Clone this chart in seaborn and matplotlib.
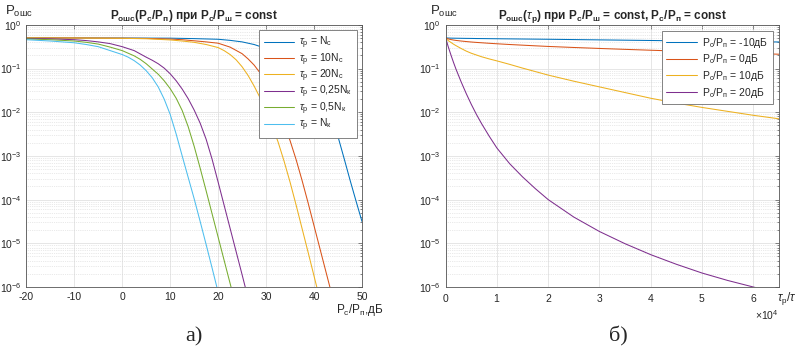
import numpy as np
import pandas as pd
import matplotlib
matplotlib.use('Agg')
import matplotlib.pyplot as plt
import matplotlib.ticker as mticker
import seaborn as sns

# ------------------------------------------------------------
# Panel а): log10(P_ошс) vs P_c/P_п, dB (read off the picture)
# ------------------------------------------------------------
x_nc = [-20, -10, 0, 10, 15, 20, 22.5, 25, 27.5, 30, 32.5, 35, 37.5, 40, 41.25,
        42.5, 43.75, 45, 46.25, 47.5, 48.75, 50]
lg_nc = [-0.300, -0.300, -0.302, -0.305, -0.315, -0.330, -0.355, -0.390, -0.450, -0.540,
         -0.660, -0.800, -0.990, -1.280, -1.480, -1.750, -2.120, -2.560, -3.050, -3.550,
         -4.030, -4.500]

x_10nc = [-20, -10, 0, 5, 10, 12.5, 15, 17.5, 20, 22.5, 25, 26.25, 27.5, 28.75, 30,
          31.25, 32.5, 33.75, 35, 36.25, 37.5, 38.75, 40, 42.5, 45]
lg_10nc = [-0.300, -0.300, -0.305, -0.310, -0.325, -0.340, -0.365, -0.390, -0.420, -0.510,
           -0.660, -0.780, -0.920, -1.100, -1.320, -1.600, -1.910, -2.260, -2.650, -3.080,
           -3.560, -4.070, -4.600, -5.660, -6.720]

x_20nc = [-20, -10, 0, 5, 10, 12.5, 15, 17.5, 20, 21.25, 22.5, 23.75, 25, 26.25, 27.5,
          28.75, 30, 31.25, 32.5, 33.75, 35, 36.25, 37.5, 38.75, 40, 42.5]
lg_20nc = [-0.300, -0.301, -0.308, -0.318, -0.345, -0.370, -0.400, -0.450, -0.520, -0.590,
           -0.680, -0.800, -0.960, -1.160, -1.400, -1.670, -1.970, -2.310, -2.680, -3.120,
           -3.600, -4.120, -4.660, -5.200, -5.750, -6.850]

x_025nk = [-20, -15, -10, -7.5, -5, -2.5, 0, 2.5, 5, 6.25, 7.5, 8.75, 10, 11.25, 12.5,
           13.75, 15, 16.25, 17.5, 18.75, 20, 21.25, 22.5, 23.75, 25, 27.5]
lg_025nk = [-0.310, -0.320, -0.340, -0.360, -0.390, -0.430, -0.500, -0.590, -0.740, -0.810,
            -0.890, -0.990, -1.120, -1.280, -1.470, -1.690, -1.950, -2.250, -2.620, -3.080,
            -3.600, -4.130, -4.660, -5.190, -5.720, -6.800]

x_05nk = [-20, -15, -10, -7.5, -5, -2.5, 0, 2.5, 3.75, 5, 6.25, 7.5, 8.75, 10, 11.25,
          12.5, 13.75, 15, 16.25, 17.5, 18.75, 20, 21.25, 22.5, 25]
lg_05nk = [-0.320, -0.340, -0.370, -0.400, -0.440, -0.510, -0.590, -0.710, -0.790, -0.890,
           -1.010, -1.130, -1.280, -1.460, -1.680, -1.960, -2.330, -2.780, -3.280, -3.800,
           -4.330, -4.860, -5.390, -5.920, -6.980]

x_nk = [-20, -15, -10, -7.5, -5, -2.5, 0, 1.25, 2.5, 3.75, 5, 6.25, 7.5, 8.75, 10,
        11.25, 12.5, 13.75, 15, 16.25, 17.5, 18.75, 20, 22.5]
lg_nk = [-0.340, -0.370, -0.410, -0.450, -0.500, -0.590, -0.680, -0.740, -0.820, -0.920,
         -1.050, -1.210, -1.420, -1.700, -2.050, -2.500, -3.000, -3.490, -3.980, -4.500,
         -5.030, -5.570, -6.120, -7.200]

labels_a = [r'$\tau_\mathrm{p}$ = N$_\mathrm{c}$',
            r'$\tau_\mathrm{p}$ = 10N$_\mathrm{c}$',
            r'$\tau_\mathrm{p}$ = 20N$_\mathrm{c}$',
            r'$\tau_\mathrm{p}$ = 0,25N$_\mathrm{к}$',
            r'$\tau_\mathrm{p}$ = 0,5N$_\mathrm{к}$',
            r'$\tau_\mathrm{p}$ = N$_\mathrm{к}$']
series_a = [(x_nc, lg_nc), (x_10nc, lg_10nc), (x_20nc, lg_20nc),
            (x_025nk, lg_025nk), (x_05nk, lg_05nk), (x_nk, lg_nk)]

# ------------------------------------------------------------
# Panel б): log10(P_ошс) vs tau_p/tau
# ------------------------------------------------------------
tau_ratio = [0, 500, 1000, 1500, 2000, 3000, 4000, 5000, 6000, 7000, 8500, 10000,
             12500, 15000, 17500, 20000, 25000, 30000, 35000, 40000, 45000, 50000,
             55000, 60000, 65000]

lg_m10db = [-0.300, -0.302, -0.304, -0.305, -0.306, -0.308, -0.310, -0.311, -0.313, -0.314,
            -0.316, -0.318, -0.321, -0.324, -0.327, -0.330, -0.337, -0.344, -0.351, -0.358,
            -0.365, -0.372, -0.379, -0.386, -0.392]
lg_0db = [-0.300, -0.322, -0.336, -0.347, -0.356, -0.370, -0.382, -0.393, -0.402, -0.410,
          -0.422, -0.433, -0.450, -0.465, -0.480, -0.494, -0.518, -0.540, -0.561, -0.581,
          -0.600, -0.619, -0.637, -0.655, -0.672]
lg_10db = [-0.300, -0.360, -0.400, -0.440, -0.475, -0.540, -0.600, -0.650, -0.690, -0.730,
           -0.780, -0.825, -0.905, -0.990, -1.070, -1.150, -1.290, -1.420, -1.550, -1.680,
           -1.790, -1.890, -1.980, -2.070, -2.150]
lg_20db = [-0.300, -0.500, -0.680, -0.850, -1.010, -1.300, -1.570, -1.820, -2.050, -2.260,
           -2.550, -2.820, -3.180, -3.480, -3.750, -4.000, -4.400, -4.730, -5.010, -5.260,
           -5.480, -5.680, -5.850, -6.000, -6.140]

labels_b = [r'P$_\mathrm{c}$/P$_\mathrm{п}$ = -10дБ',
            r'P$_\mathrm{c}$/P$_\mathrm{п}$ = 0дБ',
            r'P$_\mathrm{c}$/P$_\mathrm{п}$ = 10дБ',
            r'P$_\mathrm{c}$/P$_\mathrm{п}$ = 20дБ']
series_b = [(tau_ratio, lg_m10db), (tau_ratio, lg_0db), (tau_ratio, lg_10db),
            (tau_ratio, lg_20db)]

# MATLAB default line colours
colors_a = ['#0072BD', '#D95319', '#EDB120', '#7E2F8E', '#77AC30', '#4DBEEE']
colors_b = colors_a[:4]


def long_table(series, labels):
    rows = []
    for (xs, lg), lab in zip(series, labels):
        for x, v in zip(xs, lg):
            rows.append((x, 10.0 ** v, lab))
    return pd.DataFrame(rows, columns=['x', 'p', 'curve'])


df_a = long_table(series_a, labels_a)
df_b = long_table(series_b, labels_b)

# ------------------------------------------------------------
# Style
# ------------------------------------------------------------
sns.set_style('white')
plt.rcParams['font.family'] = ['Liberation Sans', 'DejaVu Sans']
plt.rcParams['mathtext.fontset'] = 'custom'
plt.rcParams['mathtext.rm'] = 'Liberation Sans'
plt.rcParams['mathtext.it'] = 'Liberation Sans:italic'
plt.rcParams['mathtext.bf'] = 'Liberation Sans:bold'
plt.rcParams['axes.unicode_minus'] = False

TXT = '#262626'
SPINE = '#555555'
LW = 0.75

fig = plt.figure(figsize=(8.03, 3.5), dpi=100)
ax1 = fig.add_axes([0.0328, 0.180, 0.418, 0.749])
ax2 = fig.add_axes([0.555, 0.180, 0.415, 0.749])


def style_axes(ax):
    ax.set_yscale('log')
    ax.set_ylim(1e-6, 1)
    ax.yaxis.set_major_locator(mticker.LogLocator(base=10, numticks=10))
    ax.yaxis.set_minor_locator(mticker.LogLocator(base=10, subs=np.arange(2, 10), numticks=10))
    ax.yaxis.set_minor_formatter(mticker.NullFormatter())
    ax.grid(which='major', color='#e2e2e2', linewidth=0.6, linestyle='-')
    ax.grid(which='minor', axis='y', color='#d4d4d4', linewidth=0.5, linestyle=':')
    ax.set_axisbelow(True)
    for s in ax.spines.values():
        s.set_color(SPINE)
        s.set_linewidth(0.6)
    ax.tick_params(which='both', direction='in', top=True, right=True,
                   colors=SPINE, labelcolor=TXT, labelsize=7.5, width=0.5)
    ax.tick_params(which='major', length=3)
    ax.tick_params(which='minor', length=1.5)
    ax.set_xlabel('')
    ax.set_ylabel('')


def put_legend(ax, spacing, pad_ax):
    h, l = ax.get_legend_handles_labels()
    leg = ax.legend(h, l, loc='upper right', fontsize=7.5, frameon=True, fancybox=False,
                    edgecolor='#6f6f6f', framealpha=1, borderaxespad=pad_ax,
                    handlelength=2.9, labelspacing=spacing, borderpad=0.45, handletextpad=0.5)
    leg.get_frame().set_linewidth(0.6)
    for t in leg.get_texts():
        t.set_color(TXT)


# ---- panel а) ----
sns.lineplot(data=df_a, x='x', y='p', hue='curve', hue_order=labels_a,
             palette=colors_a, estimator=None, sort=False, linewidth=LW, ax=ax1)
style_axes(ax1)
ax1.set_xlim(-20, 50)
ax1.xaxis.set_major_locator(mticker.MultipleLocator(10))
ax1.set_title(r'P$_{\mathbf{ошс}}$(P$_{\mathbf{c}}$/P$_{\mathbf{п}}$) при '
              r'P$_{\mathbf{c}}$/P$_{\mathbf{ш}}$ = const',
              fontsize=8.5, fontweight='bold', color=TXT, pad=4)
put_legend(ax1, 0.0, 0.5)

# ---- panel б) ----
sns.lineplot(data=df_b, x='x', y='p', hue='curve', hue_order=labels_b,
             palette=colors_b, estimator=None, sort=False, linewidth=LW, ax=ax2)
style_axes(ax2)
ax2.set_xlim(0, 65000)
ax2.xaxis.set_major_locator(mticker.MultipleLocator(10000))
fmt = mticker.ScalarFormatter(useMathText=True)
fmt.set_powerlimits((-3, 3))
ax2.xaxis.set_major_formatter(fmt)
ax2.xaxis.get_offset_text().set_fontsize(7.5)
ax2.xaxis.get_offset_text().set_color(TXT)
ax2.set_title(r'P$_{\mathbf{ошс}}$($\tau_{\mathbf{p}}$) при '
              r'P$_{\mathbf{c}}$/P$_{\mathbf{ш}}$ = const, P$_{\mathbf{c}}$/P$_{\mathbf{п}}$ = const',
              fontsize=8.5, fontweight='bold', color=TXT, pad=4)
put_legend(ax2, 0.25, 0.6)

# ---- axis captions placed as in the original ----
fig.text(0.006, 0.958, r'P$_\mathrm{ошс}$', fontsize=9.5, color=TXT, va='baseline')
fig.text(0.536, 0.958, r'P$_\mathrm{ошс}$', fontsize=9.5, color=TXT, va='baseline')
fig.text(0.478, 0.107, r'P$_\mathrm{c}$/P$_\mathrm{п}$,дБ', fontsize=8.5, color=TXT,
         ha='right', va='baseline')
fig.text(0.980, 0.14, r'$\tau_\mathrm{p}$/$\tau$', fontsize=8.5, color=TXT,
         ha='center', va='baseline')

# panel letters
fig.text(0.242, 0.037, 'а)', fontsize=16, family='Liberation Serif', ha='center', va='center')
fig.text(0.770, 0.040, 'б)', fontsize=16, family='Liberation Serif', ha='center', va='center')

fig.savefig('out.png', dpi=100)
